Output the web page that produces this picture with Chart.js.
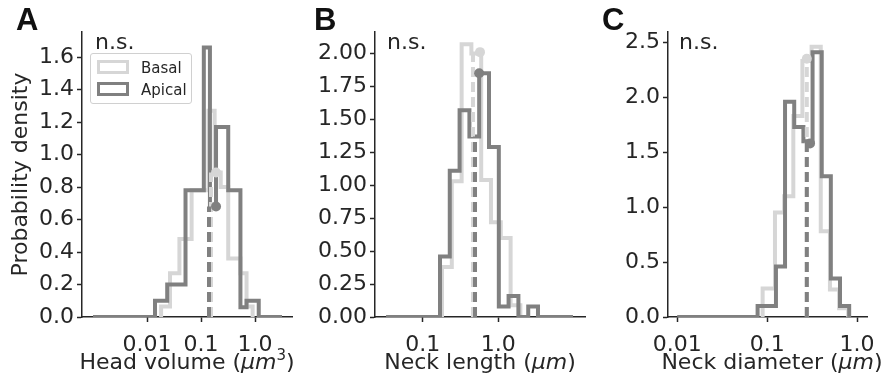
<!DOCTYPE html>
<html><head><meta charset="utf-8">
<script src="https://cdn.jsdelivr.net/npm/chart.js@4.4.1/dist/chart.umd.min.js"></script>
<style>
html,body{margin:0;padding:0;background:#fff;}
#wrap{position:relative;width:885px;height:381px;overflow:hidden;font-family:"DejaVu Sans",sans-serif;color:#262626;}
canvas{position:absolute;top:0;}
.lbl{position:absolute;font-family:"Liberation Sans",Arial,sans-serif;font-weight:bold;font-size:31px;line-height:31px;color:#111;}
.ns{position:absolute;font-size:22px;line-height:22px;}
.xt{position:absolute;font-size:22px;line-height:22px;text-align:center;white-space:nowrap;width:300px;}
.xt i{font-style:italic;}
.xt sup{font-size:15px;line-height:0;vertical-align:9px;}
#legend{position:absolute;left:90px;top:53px;width:102px;height:51px;border:1px solid #d0d0d0;border-radius:3px;background:rgba(255,255,255,0.85);box-sizing:border-box;}
.lg{position:absolute;left:6px;width:26px;height:8px;border:3px solid;}
.lt{position:absolute;left:50px;font-size:15px;line-height:15px;}
</style></head>
<body><div id="wrap">
<canvas id="cA" width="300" height="381" style="left:0px;width:300px;height:381px"></canvas>
<canvas id="cB" width="295" height="381" style="left:300px;width:295px;height:381px"></canvas>
<canvas id="cC" width="290" height="381" style="left:595px;width:290px;height:381px"></canvas>
<div class="lbl" style="left:16px;top:4px">A</div>
<div class="lbl" style="left:314px;top:4px">B</div>
<div class="lbl" style="left:602px;top:4px">C</div>
<div class="ns" style="left:95px;top:31px">n.s.</div>
<div class="ns" style="left:387px;top:31px">n.s.</div>
<div class="ns" style="left:679px;top:31px">n.s.</div>
<div class="xt" style="left:37px;top:351px">Head volume (<i>μm</i><sup>3</sup>)</div>
<div class="xt" style="left:330px;top:351px">Neck length (<i>μm</i>)</div>
<div class="xt" style="left:622px;top:351px">Neck diameter (<i>μm</i>)</div>
<div id="legend">
  <div class="lg" style="top:6px;border-color:#d6d6d6"></div><div class="lt" style="top:7px">Basal</div>
  <div class="lg" style="top:28px;border-color:#808080"></div><div class="lt" style="top:29px">Apical</div>
</div>
</div>
<script>
// ---- data (x positions are log10 of the measured quantity) ----
const seriesNames = ['Basal', 'Apical'];
const xTickValues = [-2, -1, 0];
const xTickLabelsAC = ['0.01', '0.1', '1.0'];
const xTickValuesB = [-1, 0];
const xTickLabelsB = ['0.1', '1.0'];

// Panel A: head volume
const yTicksA = [0, 0.2, 0.4, 0.6, 0.8, 1.0, 1.2, 1.4, 1.6];
const yLabelsA = ['0.0', '0.2', '0.4', '0.6', '0.8', '1.0', '1.2', '1.4', '1.6'];
const apicalEdgesA = [-1.852, -1.626, -1.287, -0.948, -0.835, -0.722, -0.496, -0.270, -0.157, 0.069];
const apicalDensA = [0.10, 0.20, 0.78, 1.66, 0.68, 1.17, 0.78, 0.06, 0.10];
const basalEdgesA = [-1.739, -1.574, -1.400, -1.174, -0.861, -0.748, -0.635, -0.496, -0.270, -0.157, -0.044];
const basalDensA = [0.064, 0.27, 0.48, 0.78, 1.27, 0.89, 0.80, 0.36, 0.27, 0.064];
const baselineA = [-3.0, 0.5];
const medianA = {apical: [-0.852, 0.68], basal: [-0.815, 0.89]};
const dotA = {apical: [-0.722, 0.68], basal: [-0.722, 0.89]};

// Panel B: neck length
const yTicksB = [0, 0.25, 0.5, 0.75, 1.0, 1.25, 1.5, 1.75, 2.0];
const yLabelsB = ['0.00', '0.25', '0.50', '0.75', '1.00', '1.25', '1.50', '1.75', '2.00'];
const apicalEdgesB = [-0.771, -0.642, -0.512, -0.382, -0.253, -0.123, 0.007, 0.136, 0.266, 0.396, 0.525];
const apicalDensB = [0.46, 1.11, 1.57, 1.37, 1.85, 1.29, 0.08, 0.16, 0.0, 0.08];
const basalEdgesB = [-0.745, -0.615, -0.485, -0.356, -0.226, -0.097, 0.033, 0.163, 0.292];
const basalDensB = [0.38, 1.03, 2.07, 2.00, 1.04, 0.72, 0.60, 0.09];
const baselineB = [-1.485, 0.988];
const medianB = {apical: [-0.308, 1.37], basal: [-0.335, 2.00]};
const dotB = {apical: [-0.253, 1.85], basal: [-0.242, 2.01]};

// Panel C: neck diameter
const yTicksC = [0, 0.5, 1.0, 1.5, 2.0, 2.5];
const yLabelsC = ['0.0', '0.5', '1.0', '1.5', '2.0', '2.5'];
const apicalEdgesC = [-1.106, -0.902, -0.801, -0.699, -0.597, -0.495, -0.393, -0.292, -0.190, -0.088];
const apicalDensC = [0.10, 0.46, 1.96, 1.73, 1.60, 2.41, 1.28, 0.35, 0.10];
const basalEdgesC = [-1.050, -0.913, -0.811, -0.709, -0.608, -0.506, -0.404, -0.302, -0.200, -0.099];
const basalDensC = [0.26, 0.95, 1.10, 1.83, 2.33, 2.46, 0.78, 0.25, 0.08];
const baselineC = [-2.0, -0.088];
const medianC = {apical: [-0.559, 1.60], basal: [-0.559, 2.33]};
const dotC = {apical: [-0.523, 1.58], basal: [-0.559, 2.35]};

// ---- styling ----
const DARK = '#808080';
const LIGHT = '#d6d6d6';
const INK = '#262626';
const FONT = {family: '"DejaVu Sans", sans-serif', size: 22};
const LW = 4;

function stepPoints(edges, vals, start, end) {
  const pts = [{x: start, y: 0}, {x: edges[0], y: 0}];
  for (let i = 0; i < vals.length; i++) {
    pts.push({x: edges[i], y: vals[i]}, {x: edges[i + 1], y: vals[i]});
  }
  pts.push({x: edges[edges.length - 1], y: 0}, {x: end, y: 0});
  return pts;
}

function histDataset(label, pts, color, order) {
  return {type: 'line', label, data: pts, borderColor: color, backgroundColor: color,
    borderWidth: LW, pointRadius: 0, tension: 0, fill: false, order,
    borderJoinStyle: 'miter', borderCapStyle: 'butt'};
}
function dashDataset(med, color, order) {
  return {type: 'line', data: [{x: med[0], y: 0}, {x: med[0], y: med[1]}], borderColor: color,
    borderWidth: LW, borderDash: [10, 5], pointRadius: 0, fill: false, order};
}
function dotDataset(d, color, order) {
  return {type: 'scatter', data: [{x: d[0], y: d[1]}], pointRadius: 5, pointBackgroundColor: color,
    pointBorderWidth: 0, borderColor: color, backgroundColor: color, order};
}

function makePanel(id, cfg) {
  const datasets = [
    dotDataset(cfg.dot.apical, DARK, 0),
    dotDataset(cfg.dot.basal, LIGHT, 1),
    dashDataset(cfg.median.apical, DARK, 2),
    dashDataset(cfg.median.basal, LIGHT, 3),
    histDataset(seriesNames[1], stepPoints(cfg.aEdges, cfg.aDens, cfg.base[0], cfg.base[1]), DARK, 4),
    histDataset(seriesNames[0], stepPoints(cfg.bEdges, cfg.bDens, cfg.bEdges[0], cfg.bEdges[cfg.bEdges.length - 1]), LIGHT, 5)
  ];
  return new Chart(document.getElementById(id), {
    data: {datasets},
    options: {
      responsive: false, animation: false, devicePixelRatio: 1,
      layout: {padding: {top: 32, right: cfg.rightPad, left: 0, bottom: 0}},
      plugins: {legend: {display: false}, tooltip: {enabled: false}},
      scales: {
        x: {type: 'linear', min: cfg.xMin, max: cfg.xMax,
          afterBuildTicks: s => { s.ticks = cfg.xTicks.map(v => ({value: v})); },
          afterFit: s => { s.height = 64; },
          ticks: {autoSkip: false, maxRotation: 0, color: INK, font: FONT, padding: 10,
            callback: (v, i) => cfg.xLabels[i]},
          grid: {drawOnChartArea: false, drawTicks: true, tickLength: 5, tickWidth: 1.5, tickColor: INK},
          border: {display: true, color: INK, width: 1.5}
        },
        y: {type: 'linear', min: 0, max: cfg.yMax,
          afterBuildTicks: s => { s.ticks = cfg.yTicks.map(v => ({value: v})); },
          afterFit: s => { s.width = cfg.yWidth; },
          ticks: {autoSkip: false, color: INK, font: FONT, padding: 3,
            callback: (v, i) => cfg.yLabels[i]},
          grid: {drawOnChartArea: false, drawTicks: true, tickLength: 5, tickWidth: 1.5, tickColor: INK},
          border: {display: true, color: INK, width: 1.5},
          title: {display: !!cfg.yTitle, text: cfg.yTitle || '', color: INK, font: FONT, padding: {top: 8, bottom: 0}}
        }
      }
    }
  });
}

makePanel('cA', {xMin: -3.204, xMax: 0.685, xTicks: xTickValues, xLabels: xTickLabelsAC,
  yMax: 1.755, yTicks: yTicksA, yLabels: yLabelsA, yWidth: 82, rightPad: 8, yTitle: 'Probability density',
  aEdges: apicalEdgesA, aDens: apicalDensA, bEdges: basalEdgesA, bDens: basalDensA, base: baselineA,
  median: medianA, dot: dotA});
makePanel('cB', {xMin: -1.631, xMax: 1.147, xTicks: xTickValuesB, xLabels: xTickLabelsB,
  yMax: 2.163, yTicks: yTicksB, yLabels: yLabelsB, yWidth: 75, rightPad: 10,
  aEdges: apicalEdgesB, aDens: apicalDensB, bEdges: basalEdgesB, bDens: basalDensB, base: baselineB,
  median: medianB, dot: dotB});
makePanel('cC', {xMin: -2.102, xMax: 0.113, xTicks: xTickValues, xLabels: xTickLabelsAC,
  yMax: 2.594, yTicks: yTicksC, yLabels: yLabelsC, yWidth: 73, rightPad: 8,
  aEdges: apicalEdgesC, aDens: apicalDensC, bEdges: basalEdgesC, bDens: basalDensC, base: baselineC,
  median: medianC, dot: dotC});
</script>
</body></html>
